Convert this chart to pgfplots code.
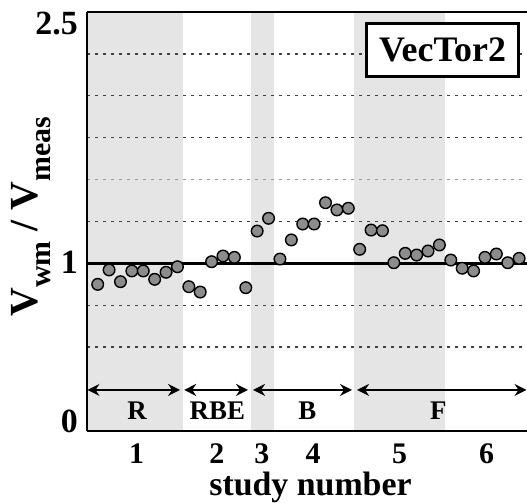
\documentclass[border=0pt]{standalone}
\usepackage{pgfplots}
\pgfplotsset{compat=1.18}
\usepackage{pgfplotstable}
\usepackage{fontspec}
\setmainfont{Liberation Serif}
\usetikzlibrary{arrows.meta}

\pgfplotstableread{
x y
1 0.875
2 0.961
3 0.891
4 0.955
5 0.955
6 0.905
7 0.947
8 0.980
9 0.861
10 0.829
11 1.010
12 1.044
13 1.036
14 0.855
15 1.193
16 1.269
17 1.026
18 1.140
19 1.235
20 1.235
21 1.362
22 1.319
23 1.329
24 1.084
25 1.199
26 1.195
27 1.004
28 1.060
29 1.050
30 1.074
31 1.110
32 1.020
33 0.971
34 0.955
35 1.036
36 1.056
37 1.004
38 1.030
}\data

\begin{document}
\begin{tikzpicture}
\path[use as bounding box] (0,0) rectangle (527bp,503bp);
\begin{axis}[
  at={(87bp,72bp)}, anchor=south west,
  scale only axis, width=440bp, height=419bp,
  xmin=0.06, xmax=38.69, ymin=0, ymax=2.5,
  axis x line*=box, axis y line*=left,
  axis line style={line width=2.5bp},
  axis on top,
  clip=false,
  xtick={4.42,11.45,15.4,19.9,27.5,35.15},
  xticklabels={1,2,3,4,5,6},
  ytick={0,1,2.5},
  yticklabels={\raisebox{-1bp}{0},\raisebox{-10bp}{1},\raisebox{-23bp}{2.5}},
  major tick length=0pt,
  xticklabel style={font=\bfseries\fontsize{30}{30}\selectfont, anchor=north, inner sep=0pt, yshift=-13bp},
  yticklabel style={font=\bfseries\fontsize{34}{34}\selectfont, anchor=base east, inner sep=0pt, xshift=-9bp},
  /pgf/number format/assume math mode=true,
  xlabel={study number},
  every axis x label/.style={at={(rel axis cs:0.508,0)}, anchor=base, yshift=-64bp, inner sep=0pt, font=\bfseries\fontsize{34}{34}\selectfont},
  ylabel={V\raisebox{-13bp}{\fontsize{30}{30}\selectfont wm} / V\raisebox{-13bp}{\fontsize{30}{30}\selectfont meas}},
  every axis y label/.style={at={(rel axis cs:-0.1136,0.511)}, rotate=90, anchor=base, inner sep=0pt, font=\bfseries\fontsize{40}{40}\selectfont},
]
% shaded study regions
\addplot[fill=black!10, draw=none] coordinates {(0.06,2.5) (8.5,2.5)} \closedcycle;
\addplot[fill=black!10, draw=none] coordinates {(14.5,2.5) (16.5,2.5)} \closedcycle;
\addplot[fill=black!10, draw=none] coordinates {(23.5,2.5) (31.5,2.5)} \closedcycle;
% dotted reference lines
\foreach \g in {0.5,0.75,1.25,1.75,2.0,2.25} {
  \addplot[black!75, line width=1.4bp, dash pattern=on 3bp off 5bp] coordinates {(0.06,\g) (38.69,\g)};
}
\addplot[black!40, line width=1.4bp, dash pattern=on 3bp off 5bp] coordinates {(0.06,1.5) (38.69,1.5)};
% unity line
\addplot[black, line width=2.5bp] coordinates {(0.06,1) (38.69,1)};
% range arrows
\addplot[black, line width=1.6bp, {Stealth[length=12bp,width=12bp]}-{Stealth[length=12bp,width=12bp]}] coordinates {(0.10,0.245) (8.23,0.245)};
\addplot[black, line width=1.6bp, {Stealth[length=12bp,width=12bp]}-{Stealth[length=12bp,width=12bp]}] coordinates {(8.59,0.245) (14.2,0.245)};
\addplot[black, line width=1.6bp, {Stealth[length=12bp,width=12bp]}-{Stealth[length=12bp,width=12bp]}] coordinates {(14.64,0.245) (23.33,0.245)};
\addplot[black, line width=1.6bp, {Stealth[length=12bp,width=12bp]}-{Stealth[length=12bp,width=12bp]}] coordinates {(23.77,0.245) (38.65,0.245)};
% data
\addplot[only marks, mark=*, mark size=5.8bp, mark options={fill=black!45, draw=black, line width=1.4bp}] table[x=x,y=y]{\data};
% labels
\node[font=\bfseries\fontsize{27}{27}\selectfont, anchor=base, inner sep=0pt] at (axis cs:4.45,0.066) {R};
\node[font=\bfseries\fontsize{27}{27}\selectfont, anchor=base, inner sep=0pt] at (axis cs:11.5,0.066) {RBE};
\node[font=\bfseries\fontsize{27}{27}\selectfont, anchor=base, inner sep=0pt] at (axis cs:19.4,0.066) {B};
\node[font=\bfseries\fontsize{27}{27}\selectfont, anchor=base, inner sep=0pt] at (axis cs:30.9,0.066) {F};
\node[draw=black, line width=3bp, fill=white, minimum width=152bp, minimum height=53bp, inner sep=0pt, font=\bfseries\fontsize{36}{36}\selectfont] at (axis cs:31.27,2.273) {VecTor2};
\end{axis}
\end{tikzpicture}
\end{document}
